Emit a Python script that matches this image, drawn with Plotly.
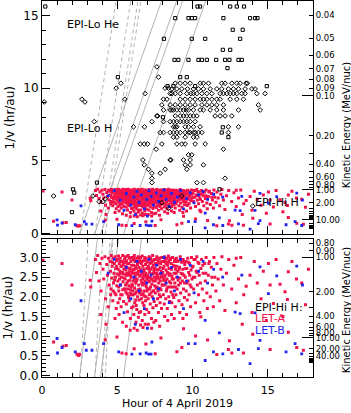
import math
import plotly.graph_objects as go

# ---- EPI-Hi H, LET-A (red): (hour, 1/v in hr/au) ----
LET_A = [
    (0.07, 2.93), (1.33, 2.85), (1.99, 2.3), (3.2, 2.42), (3.24, 2.25),
    (3.55, 2.95), (3.62, 2.62), (3.7, 3.05), (3.78, 2.4), (3.85, 2.85), (3.92, 2.15), (3.98, 2.98),
    (4.05, 2.7), (4.1, 2.45), (4.18, 3.02), (4.22, 1.95), (4.3, 2.82), (4.35, 2.55), (4.42, 2.98),
    (4.46, 2.3), (4.4, 1.75), (3.9, 1.55), (4.25, 1.3),
    (4.52, 2.9), (4.55, 2.65), (4.58, 2.2), (4.6, 3.05), (4.63, 2.48), (4.66, 2.78), (4.7, 1.9),
    (4.72, 2.98), (4.75, 2.35), (4.78, 2.6), (4.8, 2.85), (4.83, 2.1), (4.86, 3.02), (4.88, 2.5),
    (4.9, 2.72), (4.93, 1.7), (4.95, 2.92), (4.97, 2.28), (4.99, 2.58), (4.85, 1.45),
    (5.02, 2.95), (5.04, 2.4), (5.06, 2.7), (5.08, 3.04), (5.1, 2.15), (5.12, 2.55), (5.14, 2.85),
    (5.16, 1.95), (5.18, 2.65), (5.2, 2.98), (5.22, 2.3), (5.24, 2.78), (5.26, 1.75), (5.28, 2.5),
    (5.3, 2.9), (5.32, 2.05), (5.34, 2.62), (5.36, 3.05), (5.38, 2.38), (5.4, 2.82), (5.42, 1.88),
    (5.44, 2.7), (5.46, 2.2), (5.48, 2.96), (5.12, 1.55), (5.35, 1.35), (5.45, 2.48), (5.2, 2.6),
    (5.51, 2.88), (5.53, 2.45), (5.55, 3.02), (5.57, 2.12), (5.58, 2.68), (5.6, 1.82), (5.62, 2.92),
    (5.64, 2.35), (5.66, 2.75), (5.68, 1.62), (5.7, 2.55), (5.72, 3.05), (5.74, 2.02), (5.75, 2.85),
    (5.77, 2.28), (5.79, 2.62), (5.8, 1.9), (5.82, 2.98), (5.84, 2.42), (5.86, 2.72), (5.87, 1.45),
    (5.89, 2.18), (5.9, 2.9), (5.92, 2.5), (5.94, 2.8), (5.95, 1.72), (5.97, 2.32), (5.99, 3.0),
    (5.6, 1.25), (5.7, 2.2), (5.85, 2.1), (5.63, 2.6), (5.78, 3.0), (5.93, 2.05), (5.55, 2.3),
    (6.01, 2.6), (6.03, 2.95), (6.04, 2.05), (6.06, 2.4), (6.08, 2.8), (6.1, 1.55), (6.11, 2.68),
    (6.13, 3.05), (6.15, 2.22), (6.17, 1.85), (6.18, 2.52), (6.2, 2.9), (6.22, 2.35), (6.24, 1.35),
    (6.25, 2.72), (6.27, 2.12), (6.29, 2.98), (6.3, 1.68), (6.32, 2.45), (6.34, 2.82), (6.35, 2.0),
    (6.37, 2.62), (6.39, 3.02), (6.4, 1.48), (6.42, 2.3), (6.44, 2.75), (6.45, 1.92), (6.47, 2.55),
    (6.49, 2.88), (6.12, 1.2), (6.33, 1.15), (6.05, 1.75), (6.2, 2.6), (6.38, 2.18), (6.46, 1.6),
    (6.02, 2.28), (6.28, 2.4), (6.43, 3.0), (6.16, 2.92), (6.26, 1.78),
    (6.51, 2.2), (6.53, 2.7), (6.54, 3.0), (6.56, 1.62), (6.58, 2.42), (6.6, 2.85), (6.61, 1.95),
    (6.63, 2.58), (6.65, 3.04), (6.66, 1.4), (6.68, 2.3), (6.7, 2.78), (6.72, 2.08), (6.73, 2.5),
    (6.75, 2.92), (6.77, 1.78), (6.78, 2.65), (6.8, 2.15), (6.82, 3.0), (6.83, 1.55), (6.85, 2.4),
    (6.87, 2.82), (6.88, 1.9), (6.9, 2.6), (6.92, 2.98), (6.93, 2.25), (6.95, 1.68), (6.97, 2.72),
    (6.99, 2.45), (6.55, 1.28), (6.71, 1.22), (6.86, 1.3), (6.6, 2.05), (6.74, 2.35), (6.9, 2.0),
    (6.64, 2.9), (6.81, 2.55), (6.96, 2.88), (6.52, 2.52), (6.69, 1.85),
    (7.01, 2.55), (7.03, 2.9), (7.05, 1.95), (7.07, 2.38), (7.08, 2.75), (7.1, 1.6), (7.12, 3.02),
    (7.14, 2.2), (7.15, 2.62), (7.17, 2.85), (7.19, 1.82), (7.2, 2.48), (7.22, 2.98), (7.24, 2.1),
    (7.25, 2.7), (7.27, 1.45), (7.29, 2.32), (7.3, 2.88), (7.32, 2.0), (7.34, 2.58), (7.35, 3.05),
    (7.37, 1.72), (7.39, 2.4), (7.4, 2.8), (7.42, 2.15), (7.44, 2.65), (7.45, 1.88), (7.47, 2.95),
    (7.49, 2.28), (7.06, 1.3), (7.28, 1.2), (7.43, 1.35), (7.16, 2.4), (7.33, 2.75), (7.11, 2.7),
    (7.46, 2.5),
    (7.51, 2.72), (7.53, 2.1), (7.55, 2.95), (7.57, 2.45), (7.59, 1.78), (7.6, 2.6), (7.62, 3.02),
    (7.64, 2.25), (7.66, 2.82), (7.68, 1.95), (7.7, 2.5), (7.72, 2.92), (7.73, 1.6), (7.75, 2.35),
    (7.77, 2.7), (7.79, 2.05), (7.8, 2.98), (7.82, 2.58), (7.84, 1.85), (7.86, 2.4), (7.88, 2.85),
    (7.9, 2.18), (7.92, 2.65), (7.94, 1.7), (7.96, 3.0), (7.98, 2.3), (7.56, 1.4), (7.81, 1.25),
    (7.65, 2.55), (7.87, 2.0), (7.74, 2.88), (7.97, 2.55),
    (8.02, 2.62), (8.04, 2.9), (8.06, 2.05), (8.08, 2.42), (8.1, 2.78), (8.12, 1.82), (8.14, 3.02),
    (8.16, 2.3), (8.18, 2.55), (8.2, 2.88), (8.22, 1.95), (8.24, 2.68), (8.26, 2.15), (8.28, 2.98),
    (8.3, 2.45), (8.32, 1.7), (8.34, 2.8), (8.36, 2.25), (8.38, 2.6), (8.4, 3.04), (8.42, 2.0),
    (8.44, 2.72), (8.46, 2.38), (8.48, 1.88), (8.15, 1.5), (8.35, 1.4), (8.09, 2.5), (8.43, 2.92),
    (8.52, 2.58), (8.54, 2.95), (8.57, 2.12), (8.6, 2.7), (8.62, 1.85), (8.65, 2.45), (8.67, 3.0),
    (8.7, 2.25), (8.72, 2.8), (8.75, 1.98), (8.77, 2.6), (8.8, 2.9), (8.82, 2.35), (8.85, 1.75),
    (8.87, 2.7), (8.9, 2.05), (8.92, 2.98), (8.95, 2.5), (8.97, 2.2), (8.6, 1.55), (8.78, 1.45),
    (8.55, 2.35), (8.83, 2.95), (8.93, 2.78),
    (9.02, 2.65), (9.05, 2.92), (9.08, 2.3), (9.1, 1.9), (9.13, 2.75), (9.16, 2.48), (9.18, 3.02),
    (9.21, 2.1), (9.24, 2.6), (9.27, 2.88), (9.3, 1.8), (9.32, 2.4), (9.35, 2.7), (9.38, 2.95),
    (9.4, 2.2), (9.43, 2.55), (9.46, 1.98), (9.48, 2.82), (9.15, 1.6), (9.36, 1.45),
    (9.52, 2.5), (9.55, 2.9), (9.58, 2.15), (9.62, 2.72), (9.65, 1.92), (9.68, 2.98), (9.7, 2.4),
    (9.74, 2.62), (9.77, 2.05), (9.8, 2.85), (9.84, 2.3), (9.87, 1.75), (9.9, 2.68), (9.93, 3.0),
    (9.96, 2.45), (9.6, 1.55),
    (10.03, 2.78), (10.07, 2.2), (10.1, 2.95), (10.15, 2.5), (10.2, 1.85), (10.24, 2.65),
    (10.28, 3.02), (10.32, 2.3), (10.36, 2.88), (10.4, 2.05), (10.44, 2.55), (10.48, 1.6), (10.55, 1.49),
    (10.55, 2.72), (10.6, 2.95), (10.65, 2.2), (10.7, 2.6), (10.75, 1.9), (10.8, 2.85), (10.85, 2.4),
    (10.9, 3.0), (10.95, 2.1), (10.98, 1.7),
    (11.05, 2.55), (11.12, 2.9), (11.18, 2.0), (11.25, 2.75), (11.32, 2.3), (11.38, 1.75),
    (11.42, 3.0), (11.48, 2.5),
    (11.55, 2.15), (11.62, 2.85), (11.7, 2.45), (11.8, 1.9), (11.88, 2.7), (11.95, 3.02),
    (12.05, 2.3), (12.15, 1.65), (12.25, 2.6), (12.4, 2.95),
    (12.6, 2.2), (12.75, 2.8), (12.9, 1.85), (13.05, 2.45), (13.2, 3.0), (13.4, 2.05), (13.56, 2.27),
    (13.82, 2.55), (13.95, 1.6), (14.1, 2.9), (14.3, 2.35), (14.55, 1.95), (14.7, 2.65), (15.04, 2.85),
    (15.15, 2.3), (15.37, 1.83), (15.55, 2.95), (15.81, 2.32), (16.14, 2.13), (16.3, 1.93),
    (16.36, 2.64), (16.6, 2.9), (16.9, 2.45), (17.25, 2.35), (17.5, 1.8), (17.7, 2.7), (16.0, 1.5),
    (14.9, 1.4), (13.3, 1.3), (12.9, 2.98),
    (0.77, 0.85), (1.39, 0.74), (1.61, 0.76), (2.32, 0.54), (2.43, 0.51), (2.5, 0.54), (4.2, 0.91),
    (4.98, 0.98), (5.31, 0.57), (5.59, 0.55), (5.86, 1.15), (6.12, 0.68), (7.52, 0.55), (8.96, 0.6),
    (9.29, 0.71), (9.4, 1.19), (11.61, 0.53), (12.38, 0.66), (12.45, 0.88), (12.61, 0.57),
    (13.38, 0.57), (15.15, 0.66), (16.36, 1.1), (16.92, 0.71), (17.36, 0.64), (10.2, 1.0),
    (11.0, 0.9), (14.0, 1.05), (7.9, 0.95), (6.9, 0.8),
    # second pass through the dense core
    (4.56, 2.05), (4.68, 2.88), (4.74, 2.15), (4.82, 2.42), (4.91, 2.05), (4.96, 2.78),
    (5.05, 1.85), (5.09, 2.25), (5.15, 2.45), (5.19, 2.9), (5.23, 2.05), (5.27, 2.62), (5.31, 2.78),
    (5.37, 2.18), (5.41, 2.58), (5.47, 2.88),
    (5.52, 2.2), (5.56, 2.78), (5.59, 2.55), (5.65, 2.08), (5.69, 2.85), (5.73, 2.4), (5.76, 1.98),
    (5.81, 2.7), (5.88, 2.55), (5.91, 2.25), (5.96, 2.65),
    (6.02, 2.15), (6.07, 2.7), (6.09, 2.98), (6.14, 2.45), (6.19, 2.08), (6.21, 2.78), (6.23, 1.92),
    (6.31, 2.58), (6.36, 2.9), (6.41, 2.65), (6.48, 2.1),
    (6.5, 2.95), (6.57, 2.15), (6.62, 2.35), (6.67, 2.62), (6.7, 2.45), (6.76, 2.7), (6.79, 2.02),
    (6.84, 2.95), (6.89, 2.3), (6.94, 2.5), (6.98, 2.15),
    (7.02, 2.2), (7.04, 2.78), (7.09, 2.5), (7.13, 2.05), (7.18, 2.95), (7.21, 2.25), (7.26, 2.88),
    (7.31, 2.45), (7.36, 2.15), (7.38, 2.92), (7.41, 2.6), (7.48, 2.7),
    (7.52, 2.4), (7.54, 2.85), (7.58, 2.22), (7.61, 2.5), (7.67, 2.68), (7.71, 2.15), (7.76, 2.98),
    (7.78, 2.45), (7.83, 2.22), (7.85, 2.75), (7.91, 2.5), (7.95, 2.9),
    (8.01, 2.3), (8.05, 2.72), (8.11, 2.5), (8.17, 2.95), (8.21, 2.4), (8.25, 2.85), (8.29, 2.2),
    (8.33, 2.62), (8.39, 2.88), (8.45, 2.55), (8.49, 2.98),
    (8.53, 2.25), (8.58, 2.85), (8.63, 2.52), (8.68, 2.05), (8.73, 2.45), (8.79, 2.78), (8.86, 2.25),
    (8.91, 2.6), (8.98, 2.9),
    (9.04, 2.42), (9.11, 2.7), (9.2, 2.35), (9.26, 2.95), (9.33, 2.58), (9.42, 2.9), (9.47, 2.35),
    (9.54, 2.72), (9.63, 2.35), (9.72, 2.88), (9.81, 2.55), (9.91, 2.25), (9.98, 2.75),
    (10.05, 2.5), (10.18, 2.95), (10.3, 2.62), (10.42, 2.85), (10.52, 2.35), (10.68, 2.8),
    (10.88, 2.6), (11.08, 2.85), (11.28, 2.5),
]

# ---- EPI-Hi H, LET-B (blue) ----
LET_B = [
    (5.2, 2.3), (5.6, 2.75), (5.9, 1.95), (6.1, 2.5), (6.3, 2.9), (6.45, 2.15), (6.6, 2.65),
    (6.8, 1.7), (6.95, 2.35), (7.1, 2.95), (7.25, 2.55), (7.4, 1.95), (7.6, 2.8), (7.75, 2.2),
    (7.9, 2.6), (8.1, 3.0), (8.25, 2.35), (8.45, 1.85), (8.6, 2.75), (8.8, 2.15), (9.0, 2.5),
    (9.2, 2.95), (9.4, 1.7), (9.6, 2.4), (9.85, 2.8), (10.1, 2.1), (10.4, 2.65), (10.84, 1.4),
    (10.7, 2.9), (11.0, 2.35), (11.4, 2.7), (11.78, 1.08), (12.0, 2.5), (12.83, 1.61), (13.16, 1.57),
    (13.27, 2.55), (14.15, 1.59), (14.48, 2.76), (15.04, 2.08), (15.59, 2.53), (16.92, 2.78),
    (17.3, 2.3), (4.4, 2.6), (4.8, 2.95), (5.45, 1.6), (6.2, 1.3), (7.0, 1.2), (2.59, 1.9),
    (1.0, 0.94), (1.03, 0.57), (1.33, 0.71), (2.21, 0.6), (2.81, 0.81), (2.94, 0.64), (3.32, 0.64),
    (4.09, 0.81), (5.09, 0.6), (5.97, 0.54), (6.52, 0.55), (6.92, 0.57), (7.08, 0.54), (7.24, 0.54),
    (7.3, 0.85), (9.73, 0.81), (10.17, 0.81), (10.84, 0.38), (11.39, 0.6), (12.01, 0.55),
    (13.05, 0.66), (13.82, 0.3), (14.37, 0.68), (14.48, 0.89), (16.21, 0.6), (16.81, 0.81),
    (17.25, 0.55),
]

# ---- EPI-Lo H (diamonds): rows of (1/v, hours) ----
LO_H_ROWS = [
    (11.47, [7.63]),
    (10.76, [7.74]),
    (10.34, [5.24, 8.85, 9.18, 9.51, 9.84, 10.51, 10.72, 11.06, 11.94, 12.16, 12.61, 12.94, 13.16, 13.56, 13.64]),
    (10.0, [4.93, 8.18, 8.4]),
    (9.95, [8.63, 8.96, 9.29, 9.66, 10.06, 10.39, 10.72, 11.17, 11.61, 11.94, 12.38, 12.71, 13.05, 13.49, 13.94, 14.15]),
    (9.63, [6.85, 8.51, 8.63, 8.85, 9.18, 9.62, 9.89, 10.06, 10.29, 10.62, 10.95, 11.28, 11.83, 12.05,
            12.28, 12.5, 12.71, 12.94, 13.27, 13.49, 14.27, 14.82]),
    (9.24, [2.65, 5.5, 8.07, 8.3, 9.18, 9.51, 9.84, 10.17, 10.51, 10.72, 10.95, 11.28, 11.61, 11.83, 12.5, 12.94, 13.38]),
    (9.05, [0.15, 2.85]),
    (8.85, [7.96, 8.51, 8.85, 9.18, 9.51, 9.84, 10.17, 10.62, 10.95, 11.28, 11.61, 12.05, 14.37]),
    (8.5, [8.07, 8.51, 8.63, 8.73, 8.96, 9.18, 9.4, 9.58, 9.73, 10.06, 10.5, 10.72, 11.17, 11.61, 12.05, 13.05, 14.49]),
    (8.09, [7.63, 7.68, 8.85, 9.18, 9.4, 9.62, 9.84, 10.06, 10.29, 11.5, 11.83, 12.16, 12.61]),
    (7.7, [3.47, 7.3, 8.07, 8.51, 8.73, 8.96, 9.18, 9.4, 9.62, 9.84, 10.17]),
    (7.34, [6.08, 6.81, 8.73, 8.85, 8.96, 9.51, 9.73, 10.06, 10.5, 12.38, 13.05]),
    (6.95, [7.85, 8.07, 8.51, 8.73, 8.96, 9.18, 9.51, 9.73, 9.84, 10.06, 10.17, 10.39, 10.62, 12.38]),
    (6.63, [8.73, 8.96, 9.51, 10.06, 10.29]),
    (6.16, [6.52, 6.79, 7.01, 7.96, 8.96, 9.29, 9.51, 10.17, 10.84]),
    (5.8, [7.58, 12.05]),
    (5.41, [9.73, 9.95]),
    (5.06, [6.7, 8.51, 8.56, 9.4, 9.84]),
    (4.72, [6.79, 9.51, 9.84, 10.72]),
    (4.42, [7.07, 8.18, 9.62]),
    (4.15, [7.3, 7.85]),
    (3.8, [7.3, 12.16]),
    (3.5, [7.3, 10.29, 10.72]),
    (2.58, [0.77, 3.38, 9.29]),
    (2.38, [4.2]),
    (2.19, [3.8, 4.04]),
    (2.12, [7.96]),
    (1.89, [14.0]),
    (1.73, [8.4]),
]

# ---- EPI-Lo He (squares) ----
LO_HE_ROWS = [
    (15.62, [0.22, 10.33, 10.5, 12.5, 12.94, 13.42]),
    (14.82, [8.85, 9.73, 9.95, 10.17, 12.05, 13.82, 14.15, 14.31]),
    (14.02, [12.67, 13.33]),
    (13.4, [8.1, 9.95, 10.84, 13.16]),
    (12.64, [12.01, 12.5]),
    (11.95, [8.8, 9.06, 9.73, 10.39, 10.62, 10.95, 11.57, 12.16, 12.45, 13.05, 13.27]),
    (11.38, [12.32]),
    (10.76, [5.04, 9.18, 9.62]),
    (10.14, [8.34, 8.73, 10.17, 14.93]),
    (8.0, [8.03]),
    (7.31, [12.01]),
    (6.95, [11.94]),
    (6.63, [12.38]),
    (3.5, [3.65]),
    (3.04, [2.06, 11.79]),
    (2.81, [2.14]),
    (1.47, [1.99]),
]

# velocity dispersion lines: onset hour at 1/v = 0 and path length (au)
SOLID_T0 = [2.5, 3.5, 3.9, 5.43]
SOLID_PATH = 0.34
DASH_T0 = [2.55, 3.52, 4.0, 4.2]
DASH_PATH = 0.148

E_TOP_LABELS = [0.04, 0.05, 0.06, 0.07, 0.08, 0.09, 0.10, 0.20, 0.40, 0.60, 0.80, 1.00, 2.00, 10.00]
E_TOP_MINOR = [0.3, 0.5, 0.7, 0.9, 3, 4, 5, 6, 7, 8, 9, 20, 30, 40, 50, 60, 70, 80, 90, 100]
E_BOT_LABELS = [0.80, 0.90, 1.00, 2.00, 4.00, 6.00, 8.00, 10.00, 20.00, 40.00]
E_BOT_MINOR = [3, 5, 7, 9, 30, 50, 60, 70, 80, 90, 100]
E_LONG = [0.1, 1.0, 10.0]

RED = "#f2124a"
BLUE = "#2323f0"
GREY = "#b4b4b4"
FONT = "DejaVu Sans"

TOP_RANGE = [-0.07, 16.0]
BOT_RANGE = [-0.04, 3.48]


def inv_v(e):
    # kinetic energy (MeV/nuc) -> 1/v in hr/au
    gamma = 1 + e / 938.272
    beta = math.sqrt(1 - 1 / gamma ** 2)
    return 1.495979e11 / (beta * 2.99792458e8) / 3600.0


def unzip(pts):
    return [p[0] for p in pts], [p[1] for p in pts]


def rows_to_xy(rows):
    xs, ys = [], []
    for v, hrs in rows:
        for h in hrs:
            xs.append(h)
            ys.append(v)
    return xs, ys


fig = go.Figure()

# ---- lines (both panels) ----
for xa, ya in (("x", "y"), ("x2", "y2")):
    for t0 in SOLID_T0:
        fig.add_trace(go.Scatter(x=[t0 - SOLID_PATH, t0 + 17 * SOLID_PATH], y=[-1, 17],
                                 mode="lines", line=dict(color=GREY, width=1),
                                 xaxis=xa, yaxis=ya, showlegend=False, hoverinfo="skip"))
    for t0 in DASH_T0:
        fig.add_trace(go.Scatter(x=[t0 - DASH_PATH, t0 + 17 * DASH_PATH], y=[-1, 17],
                                 mode="lines", line=dict(color=GREY, width=1, dash="4px,3px"),
                                 xaxis=xa, yaxis=ya, showlegend=False, hoverinfo="skip"))

ax, ay = unzip(LET_A)
bx, by = unzip(LET_B)
for xa, ya in (("x", "y"), ("x2", "y2")):
    fig.add_trace(go.Scatter(x=ax, y=ay, mode="markers", xaxis=xa, yaxis=ya,
                             marker=dict(symbol="square", size=3, color=RED, line=dict(width=0)),
                             showlegend=False))
    fig.add_trace(go.Scatter(x=bx, y=by, mode="markers", xaxis=xa, yaxis=ya,
                             marker=dict(symbol="square", size=2.8, color=BLUE, line=dict(width=0)),
                             showlegend=False))

hx, hy = rows_to_xy(LO_H_ROWS)
fig.add_trace(go.Scatter(x=hx, y=hy, mode="markers", xaxis="x", yaxis="y",
                         marker=dict(symbol="diamond-open", size=3.6, color="black", line=dict(width=1)),
                         showlegend=False))
ex, ey = rows_to_xy(LO_HE_ROWS)
fig.add_trace(go.Scatter(x=ex, y=ey, mode="markers", xaxis="x", yaxis="y",
                         marker=dict(symbol="square-open", size=3.2, color="black", line=dict(width=1)),
                         showlegend=False))

# placeholder traces so the energy axes are drawn
for xa, ya in (("x", "y3"), ("x2", "y4"), ("x", "y5"), ("x2", "y6")):
    fig.add_trace(go.Scatter(x=[None], y=[None], xaxis=xa, yaxis=ya, showlegend=False, hoverinfo="skip"))

TOP_DOM = [0.379, 1.0]
BOT_DOM = [0.0, 0.368]

xcommon = dict(range=[0, 18], showline=True, linecolor="black", linewidth=1, mirror="ticks",
               ticks="inside", tickcolor="black", ticklen=8, dtick=5, tick0=0, automargin=False,
               minor=dict(ticks="inside", dtick=1, ticklen=4, tickcolor="black"),
               showgrid=False, zeroline=False, tickfont=dict(size=11, family=FONT, color="black"))
ycommon = dict(showline=True, linecolor="black", linewidth=1, ticks="inside", tickcolor="black",
               ticklen=8, showgrid=False, zeroline=False, automargin=False,
               tickfont=dict(size=12, family=FONT, color="black"))
rcommon = dict(side="right", showline=True, linecolor="black", linewidth=1, ticks="inside",
               tickcolor="black", ticklen=4, showgrid=False, zeroline=False, tickmode="array",
               automargin=False, tickfont=dict(size=8.5, family=FONT, color="black"))

fig.update_layout(
    template="none",
    width=351, height=413,
    margin=dict(l=42, r=38, t=1, b=36),
    paper_bgcolor="white", plot_bgcolor="white",
    font=dict(family=FONT, color="black"),
    showlegend=False,
    xaxis=dict(**xcommon, anchor="y", showticklabels=False),
    xaxis2=dict(**xcommon, anchor="y2", showticklabels=True, ticklabelstandoff=3,
                title=dict(text="Hour of 4 April 2019", font=dict(size=11, family=FONT), standoff=3)),
    yaxis=dict(**ycommon, domain=TOP_DOM, anchor="x", range=TOP_RANGE, dtick=5, tick0=0,
               minor=dict(ticks="inside", dtick=1, ticklen=4, tickcolor="black"),
               title=dict(text="1/v (hr/au)", font=dict(size=12, family=FONT), standoff=6)),
    yaxis2=dict(**ycommon, domain=BOT_DOM, anchor="x2", range=BOT_RANGE, dtick=0.5, tick0=0,
                tickformat=".1f",
                minor=dict(ticks="inside", dtick=0.1, ticklen=4, tickcolor="black"),
                title=dict(text="1/v (hr/au)", font=dict(size=12, family=FONT), standoff=4)),
    yaxis3=dict(**rcommon, overlaying="y", anchor="x", range=TOP_RANGE,
                tickvals=[inv_v(e) for e in E_TOP_LABELS], ticktext=["%.2f" % e for e in E_TOP_LABELS],
                minor=dict(ticks="inside", tickmode="array", tickvals=[inv_v(e) for e in E_TOP_MINOR],
                           ticklen=4, tickcolor="black")),
    yaxis4=dict(**rcommon, overlaying="y2", anchor="x2", range=BOT_RANGE,
                tickvals=[inv_v(e) for e in E_BOT_LABELS], ticktext=["%.2f" % e for e in E_BOT_LABELS],
                minor=dict(ticks="inside", tickmode="array", tickvals=[inv_v(e) for e in E_BOT_MINOR],
                           ticklen=4, tickcolor="black")),
    yaxis5=dict(side="right", overlaying="y", anchor="x", range=TOP_RANGE, showline=False,
                ticks="inside", tickcolor="black", ticklen=11, tickmode="array", automargin=False,
                tickvals=[inv_v(e) for e in E_LONG], showticklabels=False, showgrid=False, zeroline=False),
    yaxis6=dict(side="right", overlaying="y2", anchor="x2", range=BOT_RANGE, showline=False,
                ticks="inside", tickcolor="black", ticklen=11, tickmode="array", automargin=False,
                tickvals=[inv_v(e) for e in E_LONG], showticklabels=False, showgrid=False, zeroline=False),
)

# right-hand axis titles
for ypos in (0.67, 0.178):
    fig.add_annotation(x=1.122, y=ypos, xref="paper", yref="paper", text="Kinetic Energy (MeV/nuc)",
                       textangle=-90, showarrow=False, xanchor="center", yanchor="middle",
                       font=dict(size=10, family=FONT, color="black"))

ann_font = dict(size=11, family=FONT, color="black")
fig.add_annotation(x=1.5, y=14.35, xref="x", yref="y", text="EPI-Lo He", showarrow=False,
                   xanchor="left", font=ann_font)
fig.add_annotation(x=1.5, y=7.24, xref="x", yref="y", text="EPI-Lo H", showarrow=False,
                   xanchor="left", font=ann_font)
fig.add_annotation(x=14.0, y=2.1, xref="x", yref="y", text="EPI-Hi H", showarrow=False,
                   xanchor="left", font=ann_font)
fig.add_annotation(x=14.0, y=1.74, xref="x2", yref="y2", text="EPI-Hi H:", showarrow=False,
                   xanchor="left", font=ann_font)
fig.add_annotation(x=14.0, y=1.45, xref="x2", yref="y2", text="LET-A", showarrow=False,
                   xanchor="left", font=dict(size=11, family=FONT, color=RED))
fig.add_annotation(x=14.0, y=1.15, xref="x2", yref="y2", text="LET-B", showarrow=False,
                   xanchor="left", font=dict(size=11, family=FONT, color=BLUE))

# the page's default body margin would shift the figure by 8 px
fig.write_html("out.html", config={"displayModeBar": False},
               post_script="document.body.style.margin='0px';")
